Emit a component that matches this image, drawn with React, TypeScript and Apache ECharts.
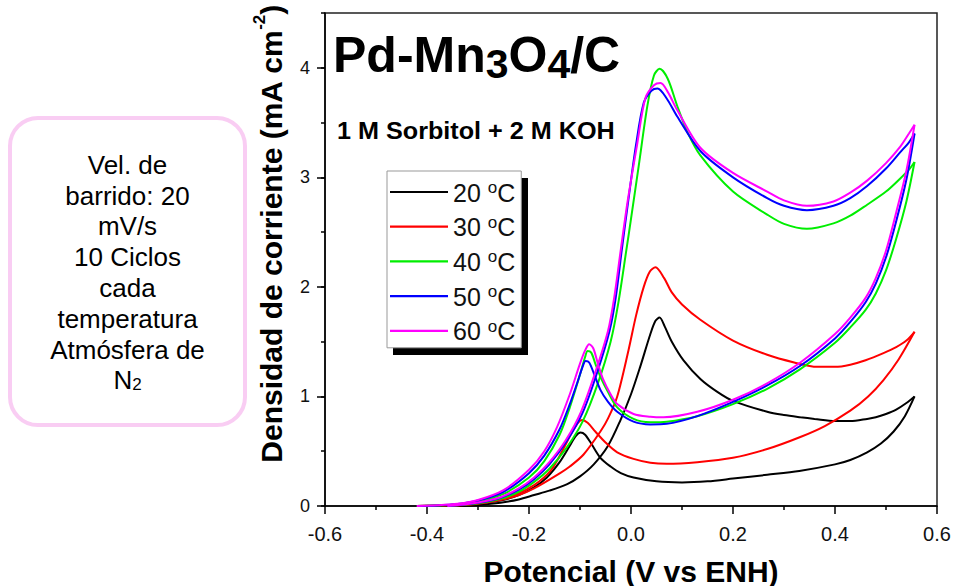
import React, { useEffect, useRef } from "react";
import * as echarts from "echarts";

const temperatures = ["20 °C", "30 °C", "40 °C", "50 °C", "60 °C"];
const colors = ["#000000", "#ff0000", "#00ee00", "#0000ff", "#ff00ff"];
const xTickValues = [-0.6, -0.4, -0.2, 0, 0.2, 0.4, 0.6];
const yMajorTicks = [0, 1, 2, 3, 4];
const boxLines = ["Vel. de", "barrido: 20", "mV/s", "10 Ciclos", "cada", "temperatura", "Atmósfera de"];

// 20 °C
const fwd20: [number, number][] = [[-0.42,0],[-0.38,0.004],[-0.34,0.012],[-0.3,0.025],[-0.256,0.05],[-0.22,0.1],[-0.19,0.17],[-0.165,0.26],[-0.14,0.4],[-0.12,0.55],[-0.108,0.64],[-0.099,0.67],[-0.09,0.65],[-0.078,0.57],[-0.06,0.44],[-0.04,0.36],[-0.02,0.3],[0.005,0.26],[0.05,0.225],[0.1,0.215],[0.15,0.225],[0.2,0.25],[0.267,0.285],[0.33,0.32],[0.4,0.38],[0.43,0.42],[0.463,0.49],[0.49,0.57],[0.515,0.68],[0.537,0.82],[0.556,1.0]];
const rev20: [number, number][] = [[0.556,1.0],[0.54,0.94],[0.52,0.88],[0.5,0.84],[0.48,0.81],[0.463,0.795],[0.43,0.775],[0.4,0.775],[0.36,0.795],[0.332,0.81],[0.3,0.83],[0.267,0.86],[0.2,0.96],[0.17,1.04],[0.136,1.16],[0.103,1.33],[0.08,1.5],[0.066,1.64],[0.056,1.72],[0.048,1.69],[0.038,1.57],[0.018,1.27],[0.0,1.02],[-0.021,0.78],[-0.045,0.55],[-0.073,0.38],[-0.1,0.27],[-0.125,0.2],[-0.16,0.14],[-0.19,0.1],[-0.22,0.06],[-0.256,0.03],[-0.3,0.01],[-0.34,0]];
// 30 °C
const fwd30: [number, number][] = [[-0.42,0],[-0.38,0.004],[-0.34,0.01],[-0.3,0.03],[-0.26,0.07],[-0.224,0.11],[-0.19,0.19],[-0.158,0.32],[-0.135,0.5],[-0.115,0.68],[-0.104,0.76],[-0.096,0.786],[-0.085,0.76],[-0.07,0.68],[-0.05,0.58],[-0.027,0.49],[0.005,0.43],[0.038,0.395],[0.07,0.385],[0.13,0.4],[0.2,0.44],[0.267,0.52],[0.332,0.63],[0.38,0.73],[0.43,0.87],[0.465,1.0],[0.495,1.15],[0.525,1.34],[0.556,1.59]];
const rev30: [number, number][] = [[0.556,1.59],[0.54,1.51],[0.52,1.45],[0.495,1.395],[0.46,1.33],[0.43,1.29],[0.4,1.27],[0.365,1.27],[0.32,1.31],[0.267,1.38],[0.2,1.51],[0.136,1.7],[0.1,1.84],[0.08,1.95],[0.065,2.08],[0.048,2.18],[0.037,2.14],[0.025,2.0],[0.01,1.74],[-0.005,1.42],[-0.027,1.0],[-0.045,0.8],[-0.06,0.68],[-0.093,0.47],[-0.12,0.36],[-0.139,0.3],[-0.19,0.16],[-0.22,0.1],[-0.256,0.055],[-0.3,0.02],[-0.35,0]];
// 40 °C
const fwd40: [number, number][] = [[-0.42,0],[-0.38,0.004],[-0.34,0.015],[-0.3,0.04],[-0.25,0.11],[-0.2,0.26],[-0.17,0.41],[-0.14,0.65],[-0.12,0.9],[-0.1,1.2],[-0.09,1.36],[-0.085,1.415],[-0.078,1.4],[-0.07,1.3],[-0.06,1.18],[-0.045,1.04],[-0.027,0.9],[0.005,0.795],[0.038,0.765],[0.07,0.77],[0.13,0.82],[0.2,0.93],[0.267,1.07],[0.332,1.25],[0.4,1.49],[0.43,1.63],[0.46,1.79],[0.48,1.94],[0.5,2.15],[0.52,2.44],[0.54,2.78],[0.556,3.14]];
const rev40: [number, number][] = [[0.556,3.14],[0.545,3.07],[0.528,2.99],[0.5,2.87],[0.463,2.75],[0.43,2.65],[0.397,2.58],[0.345,2.53],[0.3,2.575],[0.267,2.66],[0.2,2.87],[0.136,3.2],[0.11,3.42],[0.09,3.66],[0.072,3.9],[0.056,3.99],[0.045,3.93],[0.032,3.65],[0.015,3.1],[0.0,2.62],[-0.009,2.34],[-0.025,1.85],[-0.04,1.5],[-0.065,1.12],[-0.095,0.77],[-0.125,0.54],[-0.16,0.34],[-0.19,0.22],[-0.22,0.13],[-0.256,0.065],[-0.3,0.025],[-0.36,0]];
// 50 °C
const fwd50: [number, number][] = [[-0.42,0],[-0.38,0.005],[-0.34,0.018],[-0.3,0.05],[-0.25,0.13],[-0.2,0.3],[-0.17,0.46],[-0.14,0.7],[-0.12,0.93],[-0.105,1.13],[-0.095,1.27],[-0.089,1.324],[-0.082,1.31],[-0.072,1.2],[-0.06,1.06],[-0.045,0.95],[-0.027,0.86],[0.005,0.77],[0.038,0.745],[0.07,0.75],[0.13,0.82],[0.2,0.95],[0.267,1.1],[0.332,1.28],[0.4,1.53],[0.43,1.68],[0.46,1.86],[0.48,2.03],[0.5,2.27],[0.52,2.6],[0.54,2.98],[0.556,3.4]];
const rev50: [number, number][] = [[0.556,3.4],[0.545,3.32],[0.528,3.23],[0.5,3.08],[0.463,2.92],[0.43,2.81],[0.397,2.74],[0.345,2.7],[0.3,2.74],[0.267,2.81],[0.2,3.0],[0.136,3.24],[0.09,3.56],[0.07,3.72],[0.052,3.81],[0.04,3.79],[0.025,3.68],[0.01,3.3],[-0.005,2.8],[-0.018,2.34],[-0.03,1.9],[-0.042,1.6],[-0.067,1.21],[-0.095,0.85],[-0.125,0.6],[-0.16,0.38],[-0.19,0.245],[-0.22,0.15],[-0.256,0.076],[-0.3,0.03],[-0.36,0]];
// 60 °C
const fwd60: [number, number][] = [[-0.42,0],[-0.38,0.006],[-0.34,0.02],[-0.3,0.055],[-0.25,0.145],[-0.2,0.33],[-0.17,0.5],[-0.145,0.72],[-0.12,1.02],[-0.1,1.3],[-0.09,1.42],[-0.082,1.477],[-0.074,1.44],[-0.065,1.3],[-0.055,1.16],[-0.04,1.02],[-0.027,0.93],[0.005,0.84],[0.038,0.815],[0.064,0.81],[0.13,0.86],[0.2,0.97],[0.267,1.12],[0.332,1.31],[0.4,1.57],[0.43,1.72],[0.46,1.9],[0.48,2.08],[0.5,2.33],[0.52,2.68],[0.54,3.06],[0.556,3.48]];
const rev60: [number, number][] = [[0.556,3.48],[0.545,3.4],[0.528,3.28],[0.5,3.13],[0.463,2.97],[0.43,2.86],[0.397,2.78],[0.345,2.74],[0.3,2.79],[0.267,2.87],[0.2,3.04],[0.136,3.27],[0.09,3.62],[0.072,3.78],[0.058,3.86],[0.045,3.84],[0.028,3.72],[0.012,3.3],[-0.006,2.8],[-0.02,2.34],[-0.033,1.9],[-0.045,1.6],[-0.07,1.22],[-0.098,0.86],[-0.128,0.6],[-0.16,0.4],[-0.19,0.26],[-0.22,0.16],[-0.256,0.08],[-0.3,0.032],[-0.36,0]];

const loops = [[fwd20, rev20], [fwd30, rev30], [fwd40, rev40], [fwd50, rev50], [fwd60, rev60]];

const FONT = "'Liberation Sans', Arial, Helvetica, sans-serif";

export default function App() {
  const ref = useRef<HTMLDivElement>(null);
  useEffect(() => {
    document.body.style.margin = "0";
    const chart = echarts.init(ref.current!, null, { renderer: "svg" });
    const series: any[] = [];
    loops.forEach((pair, i) => {
      pair.forEach((d) => {
        series.push({
          type: "line",
          name: temperatures[i],
          data: d,
          smooth: 0.3,
          symbol: "none",
          showSymbol: false,
          lineStyle: { color: colors[i], width: 2 },
          itemStyle: { color: colors[i] },
          z: 2 + i,
        });
      });
    });
    const axisLineStyle = { color: "#000", width: 1.5 };
    const option: any = {
      animation: false,
      backgroundColor: "#fff",
      textStyle: { fontFamily: FONT },
      grid: {
        left: 325, right: 16, top: 13, bottom: 80,
        outerBoundsMode: "none",
        containLabel: false,
        show: true, borderColor: "#222", borderWidth: 1.5, backgroundColor: "transparent",
      },
      legend: {
        orient: "vertical",
        left: 387, top: 171,
        data: temperatures.map((n) => ({ name: n, icon: "rect" })),
        itemWidth: 58, itemHeight: 2.2, itemGap: 8.7,
        padding: [8, 6, 4, 3],
        backgroundColor: "#fff",
        borderColor: "#999", borderWidth: 1,
        z: 10,
        formatter: (name: string) => `{a|${name.split(" ")[0]} }{o|o}{a|C}`,
        textStyle: {
          fontFamily: FONT,
          rich: {
            a: { fontSize: 25, lineHeight: 26, verticalAlign: "bottom", color: "#111", fontFamily: FONT },
            o: { fontSize: 17, lineHeight: 16, verticalAlign: "top", color: "#111", fontFamily: FONT },
          },
        },
      },
      xAxis: {
        type: "value", min: -0.6, max: 0.6, interval: 0.2,
        axisLine: { show: true, onZero: false, lineStyle: axisLineStyle },
        axisTick: { show: true, length: 8, lineStyle: axisLineStyle },
        minorTick: { show: true, splitNumber: 2, length: 4, lineStyle: axisLineStyle },
        splitLine: { show: false },
        minorSplitLine: { show: false },
        axisLabel: {
          fontSize: 20, color: "#111", margin: 18, fontFamily: FONT,
          customValues: xTickValues,
          formatter: (v: number) => v.toFixed(1),
        },
        name: "Potencial (V vs ENH)",
        nameLocation: "middle",
        nameGap: 50,
        nameTextStyle: { fontSize: 30, fontWeight: "bold", color: "#000", fontFamily: FONT },
      },
      yAxis: [
        {
          type: "value", min: 0, max: 4.5, interval: 0.5,
          axisLine: { show: true, onZero: false, lineStyle: axisLineStyle },
          axisTick: { show: true, length: 4, lineStyle: axisLineStyle },
          splitLine: { show: false },
          axisLabel: {
            fontSize: 18, color: "#111", margin: 15, fontFamily: FONT,
            formatter: (v: number) => (Math.abs(v - Math.round(v)) < 1e-6 && v < 4.4 ? String(Math.round(v)) : ""),
          },
        },
        {
          type: "value", min: 0, max: 4.5, position: "left",
          axisLine: { show: false, onZero: false },
          axisTick: { show: true, length: 8, lineStyle: axisLineStyle, customValues: yMajorTicks },
          axisLabel: { show: false },
          splitLine: { show: false },
        },
      ],
      series,
      graphic: [
        {
          type: "rect", z: 1,
          shape: { x: 10, y: 118, width: 235, height: 307, r: 28 },
          style: { fill: "#fff", stroke: "#f9cdf3", lineWidth: 4 },
        },
        {
          type: "text", z: 5, x: 127.5, y: 147,
          style: {
            text: boxLines.map((l) => `{t|${l}}`).join("\n") + "\n{t|N}{s|2}",
            align: "center", verticalAlign: "top",
            rich: {
              t: { fontSize: 26, lineHeight: 30.8, verticalAlign: "bottom", fill: "#000", fontFamily: FONT },
              s: { fontSize: 17, lineHeight: 30.8, verticalAlign: "bottom", fill: "#000", fontFamily: FONT },
            },
          },
        },
        {
          type: "text", z: 5, x: 333, y: 30,
          style: {
            text: "{n|Pd-Mn}{s|3}{n|O}{s|4}{n|/C}",
            align: "left", verticalAlign: "top",
            rich: {
              n: { fontSize: 50, fontWeight: "bold", lineHeight: 50, verticalAlign: "top", fill: "#000", fontFamily: FONT },
              s: { fontSize: 41, fontWeight: "bold", verticalAlign: "top", padding: [13, 0, 0, 0], fill: "#000", fontFamily: FONT },
            },
          },
        },
        {
          type: "text", z: 5, x: 337, y: 131, scaleX: 1.05,
          style: {
            text: "1 M Sorbitol + 2 M KOH",
            fontSize: 24, fontWeight: "bold", fill: "#000", fontFamily: FONT,
            align: "left", verticalAlign: "middle",
          },
        },
        {
          type: "rect", z: 5,
          shape: { x: 393, y: 178, width: 135, height: 177 },
          style: { fill: "#000" },
        },
        {
          type: "text", z: 5, x: 268.5, y: 234, rotation: Math.PI / 2,
          style: {
            text: "{n|Densidad de corriente (mA cm}{s|-2}{n|)}",
            align: "center", verticalAlign: "middle",
            rich: {
              n: { fontSize: 30, fontWeight: "bold", lineHeight: 36, verticalAlign: "bottom", fill: "#000", fontFamily: FONT },
              s: { fontSize: 17, fontWeight: "bold", lineHeight: 22, verticalAlign: "top", fill: "#000", fontFamily: FONT },
            },
          },
        },
      ],
    };
    chart.setOption(option);
    return () => chart.dispose();
  }, []);
  return (
    <div
      ref={ref}
      style={{ position: "fixed", left: 0, top: 0, width: 953, height: 586, background: "#fff" }}
    />
  );
}
